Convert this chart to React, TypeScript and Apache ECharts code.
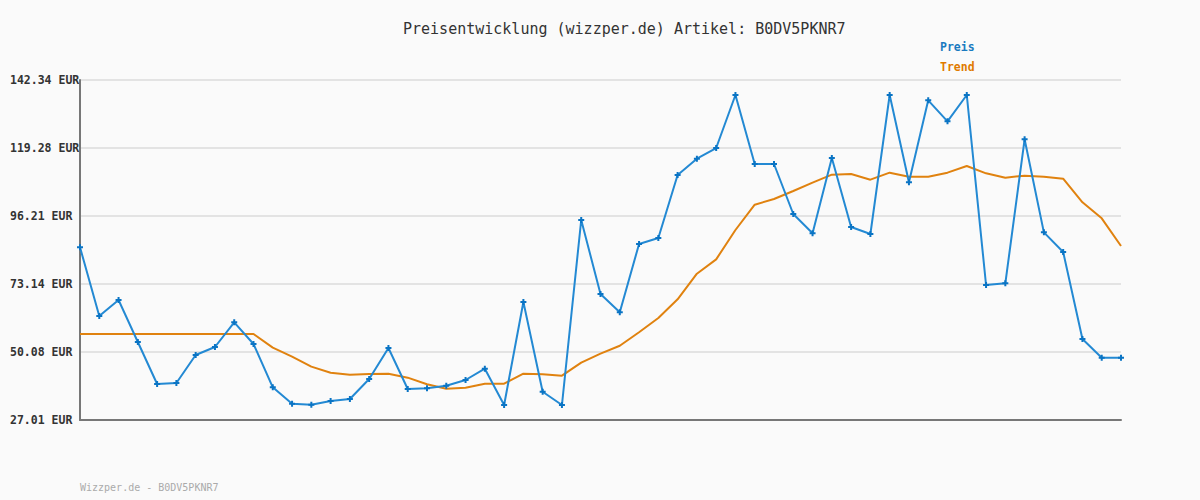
import React, { useEffect, useRef } from "react";
import * as echarts from "echarts";

const titleText = "Preisentwicklung (wizzper.de) Artikel: B0DV5PKNR7";
const footerText = "Wizzper.de - B0DV5PKNR7";

const preis = [
  85.59, 62.29, 67.71, 53.47, 39.22, 39.56, 49.06, 51.77, 60.14, 52.79,
  38.09, 32.54, 32.2, 33.45, 34.14, 40.92, 51.43, 37.52, 37.76, 38.65,
  40.58, 44.42, 32.1, 67.04, 36.6, 32.1, 94.85, 69.75, 63.54, 86.71,
  88.74, 110.12, 115.65, 119.27, 137.25, 113.85, 113.85, 96.89, 90.34, 115.88,
  92.48, 90.1, 137.25, 107.64, 135.44, 128.32, 137.25, 72.8, 73.37, 122.22,
  90.66, 84.0, 54.48, 48.15, 48.15,
];

const trend = [
  56.18, 56.18, 56.18, 56.18, 56.18, 56.18, 56.18, 56.18, 56.18, 56.18,
  51.54, 48.49, 45.1, 43.06, 42.38, 42.61, 42.72, 41.37, 39.14, 37.64,
  37.97, 39.33, 39.33, 42.72, 42.5, 42.04, 46.45, 49.5, 52.2, 56.76,
  61.61, 67.95, 76.64, 81.5, 91.46, 100.04, 101.97, 104.69, 107.51, 110.23,
  110.45, 108.53, 110.91, 109.54, 109.54, 110.91, 113.17, 110.68, 109.21, 109.89,
  109.54, 108.87, 100.84, 95.42, 86.03,
];

const categories = preis.map((_, i) => String(i + 1));

const yTickLabels = ["27.01", "50.08", "73.14", "96.21", "119.28", "142.34"];
const yTicks = yTickLabels.map((s) => parseFloat(s));

const seriesNames = ["Preis", "Trend"];
const BLUE = "#2389d3";
const BLUE_MARK = "#0a74c4";
const ORANGE = "#e0820f";

export default function App() {
  const ref = useRef<HTMLDivElement>(null);

  useEffect(() => {
    document.body.style.margin = "0";
    if (!ref.current) return;
    const chart = echarts.init(ref.current, null, { renderer: "svg" });
    const mono = "DejaVu Sans Mono";
    chart.setOption({
      animation: false,
      backgroundColor: "#fafafa",
      title: {
        text: titleText,
        left: 403,
        top: 21,
        padding: 0,
        textStyle: { fontFamily: mono, fontSize: 15, fontWeight: "normal", color: "#333" },
      },
      legend: {
        orient: "vertical",
        left: 935,
        top: 41,
        padding: 0,
        itemWidth: 0,
        itemHeight: 0,
        itemGap: 8,
        selectedMode: false,
        data: [
          { name: seriesNames[0], icon: "none", textStyle: { color: "#1a7ac0" } },
          { name: seriesNames[1], icon: "none", textStyle: { color: "#e07a00" } },
        ],
        textStyle: { fontFamily: mono, fontSize: 11.5, fontWeight: "bold", lineHeight: 12 },
      },
      graphic: [
        {
          type: "text",
          left: 80,
          top: 482,
          style: { text: footerText, fill: "#aaaaaa", font: `10px "${mono}"` },
        },
      ],
      grid: { left: 80, right: 79, top: 80, bottom: 80, containLabel: false },
      xAxis: {
        type: "category",
        data: categories,
        boundaryGap: false,
        axisLine: { show: true, lineStyle: { color: "#777", width: 2 } },
        axisTick: { show: false },
        axisLabel: { show: false },
        splitLine: { show: false },
      },
      yAxis: {
        type: "value",
        min: yTicks[0],
        max: yTicks[yTicks.length - 1],
        axisLine: { show: true, lineStyle: { color: "#777", width: 2 } },
        axisTick: { show: false, customValues: yTicks },
        axisLabel: {
          customValues: yTicks,
          margin: 70,
          align: "left",
          fontFamily: mono,
          fontSize: 11.5,
          fontWeight: "bold",
          color: "#333",
          formatter: (v: number) => {
            let best = 0;
            for (let i = 0; i < yTicks.length; i++) {
              if (Math.abs(yTicks[i] - v) < Math.abs(yTicks[best] - v)) best = i;
            }
            return yTickLabels[best] + " EUR";
          },
        },
        splitLine: { show: true, lineStyle: { color: "#e3e3e3", width: 2 } },
      },
      series: [
        {
          name: seriesNames[0],
          type: "line",
          data: preis,
          z: 3,
          lineStyle: { color: BLUE, width: 2 },
          itemStyle: { color: BLUE_MARK },
          symbol: "path://M2,0H4V2H6V4H4V6H2V4H0V2H2Z",
          symbolSize: 6,
          showSymbol: true,
        },
        {
          name: seriesNames[1],
          type: "line",
          data: trend,
          z: 2,
          lineStyle: { color: ORANGE, width: 2 },
          itemStyle: { color: ORANGE },
          symbol: "none",
        },
      ],
    });
    return () => chart.dispose();
  }, []);

  return <div ref={ref} style={{ width: 1200, height: 500 }} />;
}
